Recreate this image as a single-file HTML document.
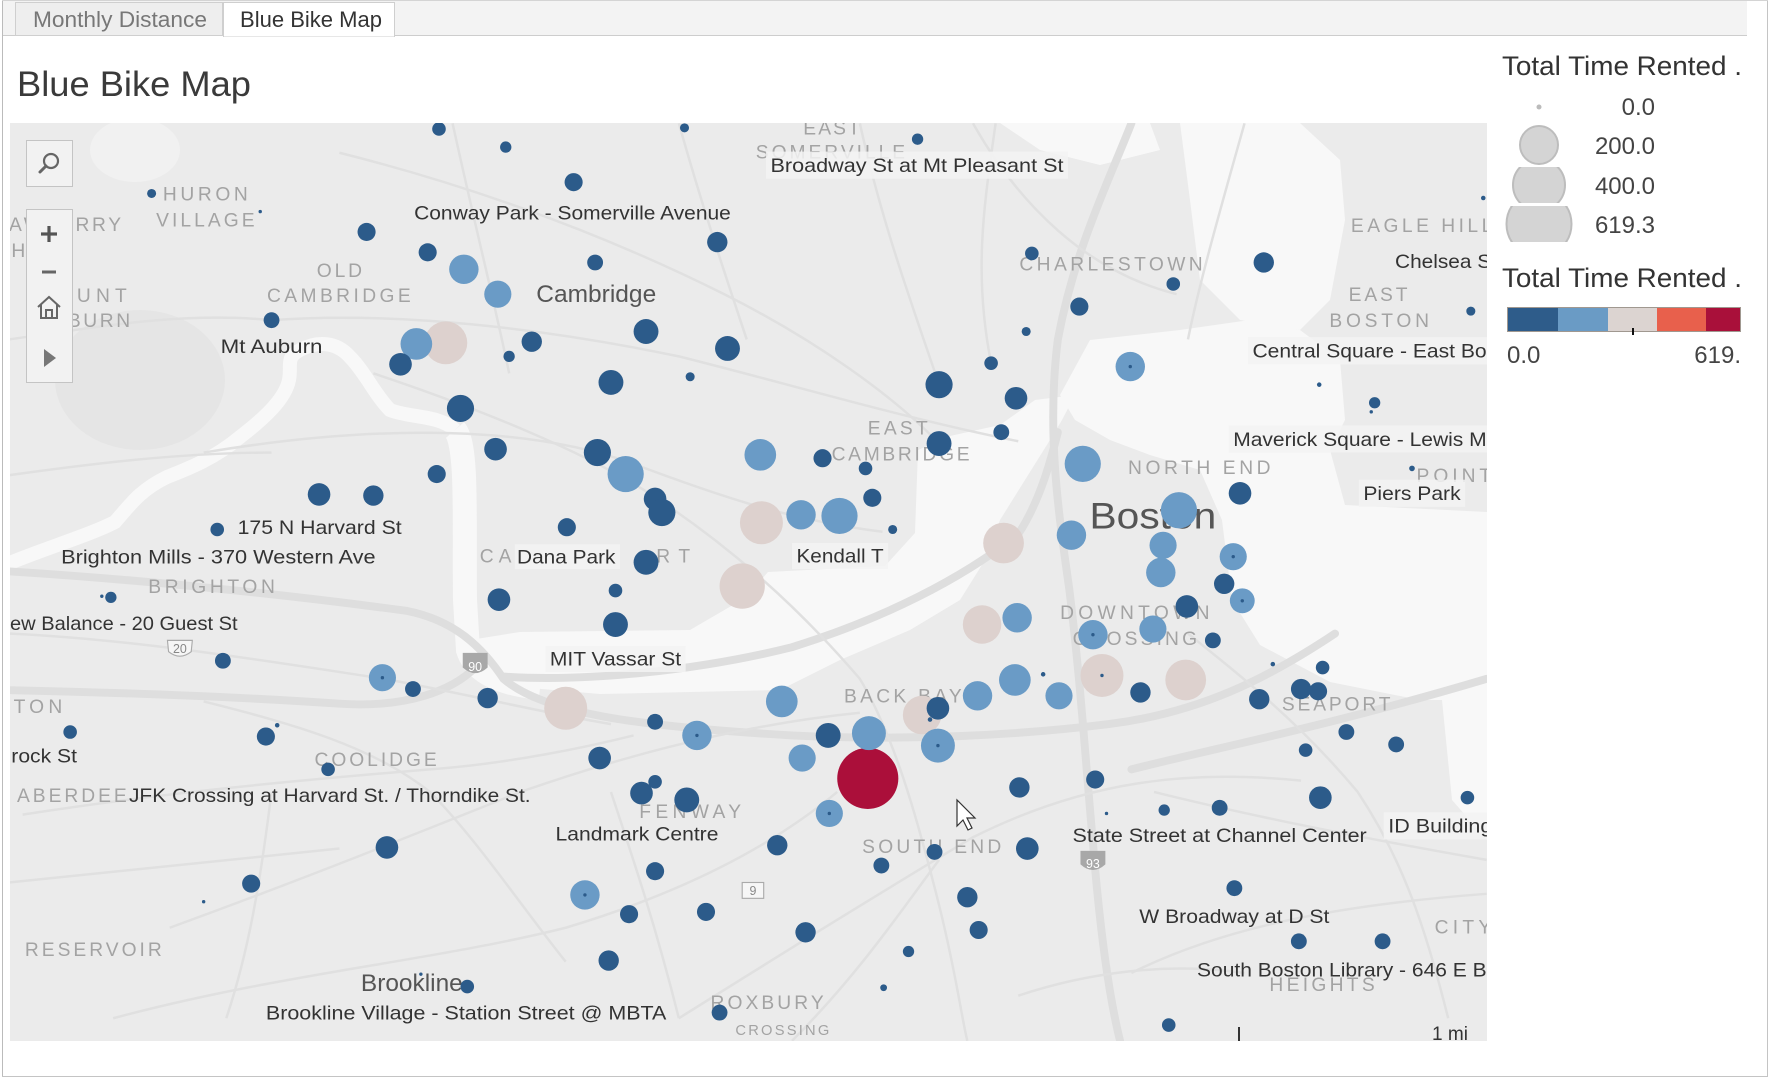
<!DOCTYPE html>
<html><head><meta charset="utf-8"><style>
html,body{margin:0;padding:0;background:#fff;width:1774px;height:1080px;overflow:hidden}
svg{display:block}
text{font-family:"Liberation Sans",sans-serif}
.d{fill:#2c5b8a}.l{fill:#6a9bc6}.p{fill:#ddd1ce}.rd{fill:#ab0f3a}
.hw{fill:none;stroke:#dedede;stroke-width:7;stroke-linecap:round}
.rr{fill:none;stroke:#e0e0e0;stroke-width:2.2}
.ar{fill:#a3a3a3;font-size:17px}
.st{fill:#333;font-size:17.5px}
.lb{fill:#f3f3f3;opacity:.85}
</style></head><body>
<svg width="1774" height="1080" viewBox="0 0 1774 1080" xmlns="http://www.w3.org/2000/svg">
<defs>
<clipPath id="mc"><rect x="10" y="123" width="1477" height="918"/></clipPath>
<clipPath id="c4"><rect x="1500" y="167" width="80" height="36"/></clipPath>
<clipPath id="c6"><rect x="1500" y="206" width="80" height="36"/></clipPath>
</defs>
<rect x="0" y="0" width="1774" height="1080" fill="#fff"/>
<!-- tab bar -->
<rect x="3" y="1" width="1744" height="34" fill="#f3f3f3"/>
<line x1="3" y1="35.5" x2="1747" y2="35.5" stroke="#cdcdcd"/>
<rect x="15.5" y="2.5" width="207" height="33" fill="#eeeeee" stroke="#cfcfcf"/>
<rect x="223.5" y="2.5" width="171" height="34" fill="#ffffff" stroke="#cfcfcf"/>
<line x1="224" y1="35.5" x2="394" y2="35.5" stroke="#fff" stroke-width="2"/>
<text x="33" y="27" font-size="22" fill="#777" textLength="174" lengthAdjust="spacingAndGlyphs">Monthly Distance</text>
<text x="240" y="27" font-size="22" fill="#333" textLength="142" lengthAdjust="spacingAndGlyphs">Blue Bike Map</text>
<!-- title -->
<text x="17" y="96" font-size="35.5" fill="#3a3a3a" textLength="234" lengthAdjust="spacingAndGlyphs">Blue Bike Map</text>

<!-- MAP -->
<g clip-path="url(#mc)">
<rect x="10" y="123" width="1477" height="918" fill="#ebebeb"/>
<ellipse cx="135" cy="150" rx="45" ry="32" fill="#f1f1f1"/>
<ellipse cx="140" cy="380" rx="85" ry="70" fill="#e5e5e5"/>
<!-- harbor water -->
<g fill="#f8f8f8">
<polygon points="1180,123 1300,123 1340,160 1345,220 1330,300 1300,330 1240,320 1200,280 1190,200"/>
<polygon points="1060,395 1090,340 1180,330 1250,320 1300,330 1340,360 1345,420 1330,450 1345,505 1487,512 1487,700 1420,700 1330,682 1260,645 1232,600 1222,520 1200,470 1150,455 1110,440 1075,420"/>
<polygon points="1440,680 1487,680 1487,840 1452,800"/>
<polygon points="1000,123 1150,123 1160,150 1100,165 1040,150"/>
<!-- basin -->
<polygon points="470,640 520,632 690,630 745,598 768,572 885,566 915,533 918,450 950,436 1000,425 1035,400 1075,395 1062,420 1050,440 1000,520 985,560 960,600 910,630 840,660 780,690 600,694 530,688 490,680"/>
</g>
<path d="M5,565 C40,550 90,535 115,522 C130,505 140,490 167,477 C190,468 215,458 240,437 C262,420 285,400 289,380 C292,365 285,358 300,350 C315,342 335,340 350,357 C365,372 375,395 390,410 C410,418 440,415 455,430" fill="none" stroke="#f8f8f8" stroke-width="14"/>
<path d="M455,430 C468,445 464,520 465,600 L468,650 C475,672 500,684 540,688" fill="none" stroke="#f8f8f8" stroke-width="24"/>

<g transform="scale(1.1314)">
<!-- roads -->
<path class="hw" d="M8,505 C120,512 250,525 360,540 C400,548 425,570 445,600 C480,630 560,642 700,650 C800,655 900,650 980,640 C1060,630 1120,600 1180,560"/>
<path class="hw" d="M1000,109 C980,160 950,220 935,300 C925,380 935,450 945,520 C955,600 960,680 966,745 C972,820 980,880 990,920"/>
<path class="hw" d="M445,598 C520,603 620,592 700,572 C780,547 850,512 900,472 C920,442 930,402 935,382"/>
<path class="hw" d="M1000,680 C1080,660 1180,640 1314,600"/>
<path class="hw" d="M8,610 C100,612 200,615 300,622 C360,626 400,610 420,590"/>
<path class="rr" d="M240,283 C350,275 480,290 600,315 C700,340 800,370 900,390"/>
<path class="rr" d="M300,135 C400,160 520,200 640,260 C720,300 790,350 830,392"/>
<path class="rr" d="M180,400 C300,380 450,370 560,410 C640,440 700,460 780,470"/>
<path class="rr" d="M330,330 C420,360 520,400 580,440 C640,480 700,530 760,600 C790,650 810,720 830,800 C845,860 850,900 855,920"/>
<path class="rr" d="M8,560 C120,565 240,585 340,600 C420,615 480,630 540,640"/>
<path class="rr" d="M150,820 C260,780 360,740 460,700 C560,665 660,640 760,630"/>
<path class="rr" d="M20,720 C150,700 260,690 380,680 C450,675 520,660 560,650"/>
<path class="rr" d="M100,900 C250,860 380,850 500,820 C600,790 680,750 740,700"/>
<path class="rr" d="M600,900 C680,850 760,800 860,740 C960,690 1050,680 1150,690"/>
<path class="rr" d="M700,920 C760,860 800,800 830,760"/>
<path class="rr" d="M1000,860 C1080,820 1180,800 1314,790"/>
<path class="rr" d="M1020,700 C1100,720 1200,740 1314,760"/>
<path class="rr" d="M1100,109 C1080,180 1060,250 1050,300"/>
<path class="rr" d="M8,420 C80,410 160,400 240,400"/>
<path class="rr" d="M600,109 C620,180 640,240 660,300"/>
<path class="rr" d="M760,109 C780,200 810,280 830,340"/>
<path class="rr" d="M900,880 C960,860 1030,850 1100,860"/>
<path class="rr" d="M400,109 C420,200 440,280 450,330"/>
<path class="rr" d="M8,300 C80,290 160,275 240,283"/>
<path class="rr" d="M180,620 C260,640 330,660 380,700 C420,740 460,800 500,850"/>
<path class="rr" d="M540,700 C560,760 580,820 600,900"/>
<path class="rr" d="M880,109 C870,180 860,240 876,321"/>
<path class="rr" d="M8,780 C100,770 200,760 300,750"/>
<path class="rr" d="M200,900 C220,840 230,780 240,700"/>
<path class="rr" d="M1050,560 C1100,600 1150,640 1200,700 C1240,760 1260,820 1280,900"/>
<path class="rr" d="M860,109 C900,180 960,240 1040,260"/>

<!-- area labels -->
<text class="ar" x="144" y="177" textLength="75" lengthAdjust="spacing">HURON</text>
<text class="ar" x="138" y="200" textLength="87" lengthAdjust="spacing">VILLAGE</text>
<text class="ar" x="8" y="204" textLength="99" lengthAdjust="spacing">AWBERRY</text>
<text class="ar" x="10" y="227" textLength="50" lengthAdjust="spacing">HILL</text>
<text class="ar" x="280" y="245" textLength="40" lengthAdjust="spacing">OLD</text>
<text class="ar" x="236" y="267" textLength="127" lengthAdjust="spacing">CAMBRIDGE</text>
<text class="ar" x="68" y="267" textLength="44" lengthAdjust="spacing">UNT</text>
<text class="ar" x="60" y="289" textLength="55" lengthAdjust="spacing">BURN</text>
<text class="ar" x="767" y="384" textLength="53" lengthAdjust="spacing">EAST</text>
<text class="ar" x="735" y="407" textLength="122" lengthAdjust="spacing">CAMBRIDGE</text>
<text class="ar" x="901" y="239" textLength="162" lengthAdjust="spacing">CHARLESTOWN</text>
<text class="ar" x="1194" y="205" textLength="125" lengthAdjust="spacing">EAGLE HILL</text>
<text class="ar" x="1192" y="266" textLength="52" lengthAdjust="spacing">EAST</text>
<text class="ar" x="1175" y="289" textLength="88" lengthAdjust="spacing">BOSTON</text>
<text class="ar" x="997" y="419" textLength="126" lengthAdjust="spacing">NORTH END</text>
<text class="ar" x="1252" y="426" textLength="66" lengthAdjust="spacing">POINT</text>
<text class="ar" x="131" y="524" textLength="112" lengthAdjust="spacing">BRIGHTON</text>
<text class="ar" x="424" y="497" textLength="28" lengthAdjust="spacing">CA</text>
<text class="ar" x="580" y="497" textLength="30" lengthAdjust="spacing">RT</text>
<text class="ar" x="937" y="547" textLength="132" lengthAdjust="spacing">DOWNTOWN</text>
<text class="ar" x="948" y="570" textLength="110" lengthAdjust="spacing">CROSSING</text>
<text class="ar" x="746" y="621" textLength="104" lengthAdjust="spacing">BACK BAY</text>
<text class="ar" x="1133" y="628" textLength="96" lengthAdjust="spacing">SEAPORT</text>
<text class="ar" x="12" y="630" textLength="43" lengthAdjust="spacing">TON</text>
<text class="ar" x="278" y="677" textLength="108" lengthAdjust="spacing">COOLIDGE</text>
<text class="ar" x="15" y="709" textLength="97" lengthAdjust="spacing">ABERDEE</text>
<text class="ar" x="565" y="723" textLength="90" lengthAdjust="spacing">FENWAY</text>
<text class="ar" x="762" y="754" textLength="123" lengthAdjust="spacing">SOUTH END</text>
<text class="ar" x="1268" y="825" textLength="50" lengthAdjust="spacing">CITY</text>
<text class="ar" x="22" y="845" textLength="121" lengthAdjust="spacing">RESERVOIR</text>
<text class="ar" x="628" y="892" textLength="100" lengthAdjust="spacing">ROXBURY</text>
<text class="ar" x="650" y="915" font-size="13" style="font-size:13px" textLength="83" lengthAdjust="spacing">CROSSING</text>
<text class="ar" x="710" y="119" textLength="50" lengthAdjust="spacing">EAST</text>
<text class="ar" x="668" y="140" textLength="132" lengthAdjust="spacing">SOMERVILLE</text>
<text class="ar" x="1122" y="876" textLength="93" lengthAdjust="spacing">HEIGHTS</text>
<text x="474" y="267" font-size="21.5" fill="#555" textLength="106" lengthAdjust="spacingAndGlyphs">Cambridge</text>
<text x="319" y="876" font-size="21.5" fill="#555" textLength="90" lengthAdjust="spacingAndGlyphs">Brookline</text>
<text x="963" y="467" font-size="33" fill="#555" textLength="112" lengthAdjust="spacingAndGlyphs">Boston</text>

<!-- shields -->
<path d="M148,566 L170,566 L169,576 Q159,584 149,576 Z" fill="#f6f6f6" stroke="#aaa" stroke-width="1"/>
<text x="159" y="577" font-size="11" fill="#888" text-anchor="middle">20</text>
<path d="M409,577 L431,577 L431,590 Q420,600 409,590 Z" fill="#a8a8a8"/>
<text x="420" y="593" font-size="11" fill="#fff" text-anchor="middle">90</text>
<rect x="656" y="780" width="19" height="14" fill="#f6f6f6" stroke="#aaa"/>
<text x="665.5" y="791" font-size="11" fill="#888" text-anchor="middle">9</text>
<path d="M955,752 L977,752 L977,764 Q966,774 955,764 Z" fill="#a8a8a8"/>
<text x="966" y="767" font-size="11" fill="#fff" text-anchor="middle">93</text>

<!-- circles: pale -->
<g class="p">
<circle cx="394" cy="303" r="19"/><circle cx="673" cy="462" r="19"/><circle cx="887" cy="480" r="18"/>
<circle cx="656" cy="518" r="20"/><circle cx="868" cy="552" r="17"/><circle cx="974" cy="597" r="19"/>
<circle cx="1048" cy="601" r="18"/><circle cx="500" cy="626" r="19"/><circle cx="815" cy="632" r="17"/>
</g>
<circle class="rd" cx="767" cy="688" r="27"/>
<g class="l">
<circle cx="410" cy="238" r="13"/><circle cx="440" cy="260" r="12"/><circle cx="368" cy="304" r="14"/>
<circle cx="999" cy="324" r="13"/><circle cx="553" cy="419" r="16"/><circle cx="672" cy="402" r="14"/>
<circle cx="957" cy="410" r="16"/><circle cx="708" cy="455" r="13"/><circle cx="742" cy="456" r="16"/>
<circle cx="1042" cy="451" r="16"/><circle cx="947" cy="473" r="13"/><circle cx="1028" cy="482" r="12"/>
<circle cx="1026" cy="506" r="13"/><circle cx="1090" cy="492" r="12"/><circle cx="1098" cy="531" r="11"/>
<circle cx="899" cy="546" r="13"/><circle cx="966" cy="561" r="13"/><circle cx="1019" cy="556" r="12"/>
<circle cx="338" cy="599" r="12"/><circle cx="897" cy="601" r="14"/><circle cx="864" cy="615" r="13"/>
<circle cx="936" cy="615" r="12"/><circle cx="691" cy="620" r="14"/><circle cx="616" cy="650" r="13"/>
<circle cx="768" cy="648" r="15"/><circle cx="829" cy="659" r="15"/><circle cx="709" cy="670" r="12"/>
<circle cx="733" cy="719" r="12"/><circle cx="517" cy="791" r="13"/>
</g>
<g class="d">
<circle cx="388" cy="114" r="6"/><circle cx="447" cy="130" r="5"/><circle cx="605" cy="113" r="4"/>
<circle cx="507" cy="161" r="8"/><circle cx="811" cy="123" r="5"/><circle cx="134" cy="171" r="4"/>
<circle cx="230" cy="187" r="1.5"/><circle cx="324" cy="205" r="8"/><circle cx="378" cy="223" r="8"/>
<circle cx="526" cy="232" r="7"/><circle cx="634" cy="214" r="9"/><circle cx="912" cy="224" r="6"/>
<circle cx="1117" cy="232" r="9"/><circle cx="1037" cy="251" r="6"/><circle cx="954" cy="271" r="8"/>
<circle cx="907" cy="293" r="4"/><circle cx="240" cy="283" r="7"/><circle cx="354" cy="322" r="10"/>
<circle cx="470" cy="302" r="9"/><circle cx="450" cy="315" r="5"/><circle cx="571" cy="293" r="11"/>
<circle cx="643" cy="308" r="11"/><circle cx="610" cy="333" r="4"/><circle cx="540" cy="338" r="11"/>
<circle cx="876" cy="321" r="6"/><circle cx="830" cy="340" r="12"/><circle cx="898" cy="352" r="10"/>
<circle cx="407" cy="361" r="12"/><circle cx="885" cy="382" r="7"/><circle cx="830" cy="392" r="11"/>
<circle cx="438" cy="397" r="10"/><circle cx="528" cy="400" r="12"/><circle cx="727" cy="405" r="8"/>
<circle cx="765" cy="414" r="6"/><circle cx="386" cy="419" r="8"/><circle cx="282" cy="437" r="10"/>
<circle cx="330" cy="438" r="9"/><circle cx="579" cy="441" r="10"/><circle cx="585" cy="453" r="12"/>
<circle cx="771" cy="440" r="8"/><circle cx="789" cy="468" r="4"/><circle cx="1096" cy="436" r="10"/>
<circle cx="501" cy="466" r="8"/><circle cx="192" cy="468" r="6"/><circle cx="571" cy="497" r="11"/>
<circle cx="544" cy="522" r="6"/><circle cx="1082" cy="516" r="9"/><circle cx="98" cy="528" r="5"/>
<circle cx="90" cy="527" r="1.5"/><circle cx="441" cy="530" r="10"/><circle cx="1049" cy="536" r="10"/>
<circle cx="544" cy="552" r="11"/><circle cx="1072" cy="566" r="7"/><circle cx="197" cy="584" r="7"/>
<circle cx="1125" cy="587" r="2"/><circle cx="1169" cy="590" r="6"/><circle cx="365" cy="609" r="7"/>
<circle cx="1008" cy="612" r="9"/><circle cx="1150" cy="609" r="9"/><circle cx="1165" cy="611" r="8"/>
<circle cx="1113" cy="618" r="9"/><circle cx="431" cy="617" r="9"/><circle cx="829" cy="626" r="10"/>
<circle cx="579" cy="638" r="7"/><circle cx="62" cy="647" r="6"/><circle cx="245" cy="641" r="2"/>
<circle cx="235" cy="651" r="8"/><circle cx="732" cy="650" r="11"/><circle cx="1190" cy="647" r="7"/>
<circle cx="1234" cy="658" r="7"/><circle cx="1154" cy="663" r="6"/><circle cx="530" cy="670" r="10"/>
<circle cx="290" cy="680" r="6"/><circle cx="579" cy="691" r="6"/><circle cx="567" cy="701" r="10"/>
<circle cx="607" cy="707" r="11"/><circle cx="901" cy="696" r="9"/><circle cx="968" cy="689" r="8"/>
<circle cx="1029" cy="716" r="5"/><circle cx="1078" cy="714" r="7"/><circle cx="1167" cy="705" r="10"/>
<circle cx="1297" cy="705" r="6"/><circle cx="978" cy="719" r="1.5"/><circle cx="342" cy="749" r="10"/>
<circle cx="687" cy="747" r="9"/><circle cx="908" cy="750" r="10"/><circle cx="826" cy="753" r="7"/>
<circle cx="779" cy="765" r="7"/><circle cx="579" cy="770" r="8"/><circle cx="222" cy="781" r="8"/>
<circle cx="1091" cy="785" r="7"/><circle cx="855" cy="793" r="9"/><circle cx="556" cy="808" r="8"/>
<circle cx="624" cy="806" r="8"/><circle cx="180" cy="797" r="1.5"/><circle cx="712" cy="824" r="9"/>
<circle cx="865" cy="822" r="8"/><circle cx="1148" cy="832" r="7"/><circle cx="1222" cy="832" r="7"/>
<circle cx="803" cy="841" r="5"/><circle cx="538" cy="849" r="9"/><circle cx="372" cy="861" r="1.5"/>
<circle cx="413" cy="872" r="6"/><circle cx="781" cy="873" r="3"/><circle cx="636" cy="895" r="7"/>
<circle cx="1033" cy="906" r="6"/><circle cx="1311" cy="175" r="2"/><circle cx="1300" cy="275" r="4"/>
<circle cx="1166" cy="340" r="2"/><circle cx="1215" cy="356" r="5"/><circle cx="1212" cy="364" r="1.5"/>
<circle cx="1248" cy="414" r="2.5"/><circle cx="922" cy="596" r="2"/><circle cx="822" cy="636" r="2"/>
<!-- inner dots -->
<circle cx="999" cy="324" r="1.5"/><circle cx="1090" cy="492" r="1.5"/><circle cx="1098" cy="531" r="1.5"/>
<circle cx="966" cy="561" r="1.5"/><circle cx="338" cy="599" r="1.5"/><circle cx="616" cy="650" r="1.5"/>
<circle cx="829" cy="659" r="1.5"/><circle cx="733" cy="719" r="1.5"/><circle cx="517" cy="791" r="1.5"/>
<circle cx="974" cy="597" r="1.5"/>
</g>

<!-- station labels -->
<rect class="lb" x="677" y="134" width="267" height="24"/>
<rect class="lb" x="700" y="480" width="85" height="23"/>
<rect class="lb" x="482" y="571" width="124" height="23"/>
<rect class="lb" x="455" y="481" width="93" height="22"/>
<rect class="lb" x="1103" y="298" width="215" height="24"/>
<rect class="lb" x="1086" y="376" width="232" height="24"/>
<rect class="lb" x="1201" y="424" width="94" height="24"/>
<rect class="lb" x="1223" y="718" width="95" height="24"/>
<text class="st" x="681" y="152" textLength="259" lengthAdjust="spacingAndGlyphs">Broadway St at Mt Pleasant St</text>
<text class="st" x="366" y="194" textLength="280" lengthAdjust="spacingAndGlyphs">Conway Park - Somerville Avenue</text>
<text class="st" x="195" y="312" textLength="90" lengthAdjust="spacingAndGlyphs">Mt Auburn</text>
<text class="st" x="210" y="472" textLength="145" lengthAdjust="spacingAndGlyphs">175 N Harvard St</text>
<text class="st" x="54" y="498" textLength="278" lengthAdjust="spacingAndGlyphs">Brighton Mills - 370 Western Ave</text>
<text class="st" x="457" y="498" textLength="87" lengthAdjust="spacingAndGlyphs">Dana Park</text>
<text class="st" x="704" y="497" textLength="77" lengthAdjust="spacingAndGlyphs">Kendall T</text>
<text class="st" x="-4" y="557" textLength="214" lengthAdjust="spacingAndGlyphs">New Balance - 20 Guest St</text>
<text class="st" x="486" y="588" textLength="116" lengthAdjust="spacingAndGlyphs">MIT Vassar St</text>
<text class="st" x="10" y="674" textLength="58" lengthAdjust="spacingAndGlyphs">rock St</text>
<text class="st" x="114" y="709" textLength="355" lengthAdjust="spacingAndGlyphs">JFK Crossing at Harvard St. / Thorndike St.</text>
<text class="st" x="491" y="743" textLength="144" lengthAdjust="spacingAndGlyphs">Landmark Centre</text>
<text class="st" x="948" y="744" textLength="260" lengthAdjust="spacingAndGlyphs">State Street at Channel Center</text>
<text class="st" x="1227" y="736" textLength="92" lengthAdjust="spacingAndGlyphs">ID Building</text>
<text class="st" x="1007" y="816" textLength="168" lengthAdjust="spacingAndGlyphs">W Broadway at D St</text>
<text class="st" x="1058" y="863" textLength="256" lengthAdjust="spacingAndGlyphs">South Boston Library - 646 E B</text>
<text class="st" x="235" y="901" textLength="354" lengthAdjust="spacingAndGlyphs">Brookline Village - Station Street @ MBTA</text>
<text class="st" x="1107" y="316" textLength="207" lengthAdjust="spacingAndGlyphs">Central Square - East Bo</text>
<text class="st" x="1090" y="394" textLength="224" lengthAdjust="spacingAndGlyphs">Maverick Square - Lewis M</text>
<text class="st" x="1205" y="442" textLength="86" lengthAdjust="spacingAndGlyphs">Piers Park</text>
<text class="st" x="1233" y="237" textLength="85" lengthAdjust="spacingAndGlyphs">Chelsea S</text>
</g>
<!-- scale bar -->
<line x1="1239" y1="1027" x2="1239" y2="1041" stroke="#333" stroke-width="2"/>
<text x="1432" y="1040" font-size="19" fill="#333" textLength="36" lengthAdjust="spacingAndGlyphs">1 mi</text>
<!-- cursor -->
<path d="M957,800 L957,826 L963,820 L968,830 L972,828 L967,818 L975,818 Z" fill="#fff" stroke="#333" stroke-width="1.2"/>
</g>

<!-- map controls -->
<rect x="26.5" y="140.5" width="46" height="46" fill="#f2f2f2" stroke="#c4c4c4"/>
<circle cx="51" cy="161" r="7" fill="none" stroke="#666" stroke-width="2.2"/>
<line x1="46" y1="166" x2="40" y2="172" stroke="#666" stroke-width="3" stroke-linecap="round"/>
<rect x="26.5" y="209.5" width="46" height="173" fill="#f2f2f2" stroke="#c4c4c4"/>
<line x1="41" y1="234" x2="57" y2="234" stroke="#555" stroke-width="3.2"/>
<line x1="49" y1="226" x2="49" y2="242" stroke="#555" stroke-width="3.2"/>
<line x1="42" y1="272" x2="56" y2="272" stroke="#666" stroke-width="3"/>
<path d="M38,307 L49,297 L60,307 M41,304 L41,318 L57,318 L57,304 M46,318 L46,310 L52,310 L52,318" fill="none" stroke="#666" stroke-width="2"/>
<path d="M44,349 L56,358 L44,367 Z" fill="#777"/>

<!-- legend -->
<text x="1502" y="75" font-size="27" fill="#333" textLength="240" lengthAdjust="spacingAndGlyphs">Total Time Rented .</text>
<circle cx="1539" cy="107" r="2.5" fill="#bbb"/>
<circle cx="1539" cy="145" r="19" fill="#d4d4d4" stroke="#bdbdbd" stroke-width="2"/>
<circle cx="1539" cy="185" r="26" fill="#d4d4d4" stroke="#bdbdbd" stroke-width="2" clip-path="url(#c4)"/>
<circle cx="1539" cy="224" r="32.5" fill="#d4d4d4" stroke="#bdbdbd" stroke-width="2" clip-path="url(#c6)"/>
<g font-size="24" fill="#444" text-anchor="end">
<text x="1655" y="115">0.0</text>
<text x="1655" y="154">200.0</text>
<text x="1655" y="194">400.0</text>
<text x="1655" y="233">619.3</text>
</g>
<text x="1502" y="287" font-size="27" fill="#333" textLength="240" lengthAdjust="spacingAndGlyphs">Total Time Rented .</text>
<rect x="1507" y="307" width="234" height="25" fill="#a09890"/>
<rect x="1508" y="308" width="50" height="23" fill="#2e5c8a"/>
<rect x="1558" y="308" width="50" height="23" fill="#6a9bc5"/>
<rect x="1608" y="308" width="49" height="23" fill="#dcd4d1"/>
<rect x="1657" y="308" width="49" height="23" fill="#e8604c"/>
<rect x="1706" y="308" width="34" height="23" fill="#a9103a"/>
<line x1="1633" y1="328" x2="1633" y2="335" stroke="#111" stroke-width="2"/>
<text x="1507" y="363" font-size="24" fill="#444">0.0</text>
<text x="1741" y="363" font-size="24" fill="#444" text-anchor="end">619.</text>

<!-- frame -->
<line x1="2.5" y1="0" x2="2.5" y2="1076" stroke="#bbb"/>
<line x1="1767.5" y1="0" x2="1767.5" y2="1076" stroke="#c4c4c4"/>
<line x1="2" y1="1076.5" x2="1768" y2="1076.5" stroke="#c4c4c4"/>
<line x1="2" y1="0.5" x2="1768" y2="0.5" stroke="#d4d4d4"/>
</svg>
</body></html>
